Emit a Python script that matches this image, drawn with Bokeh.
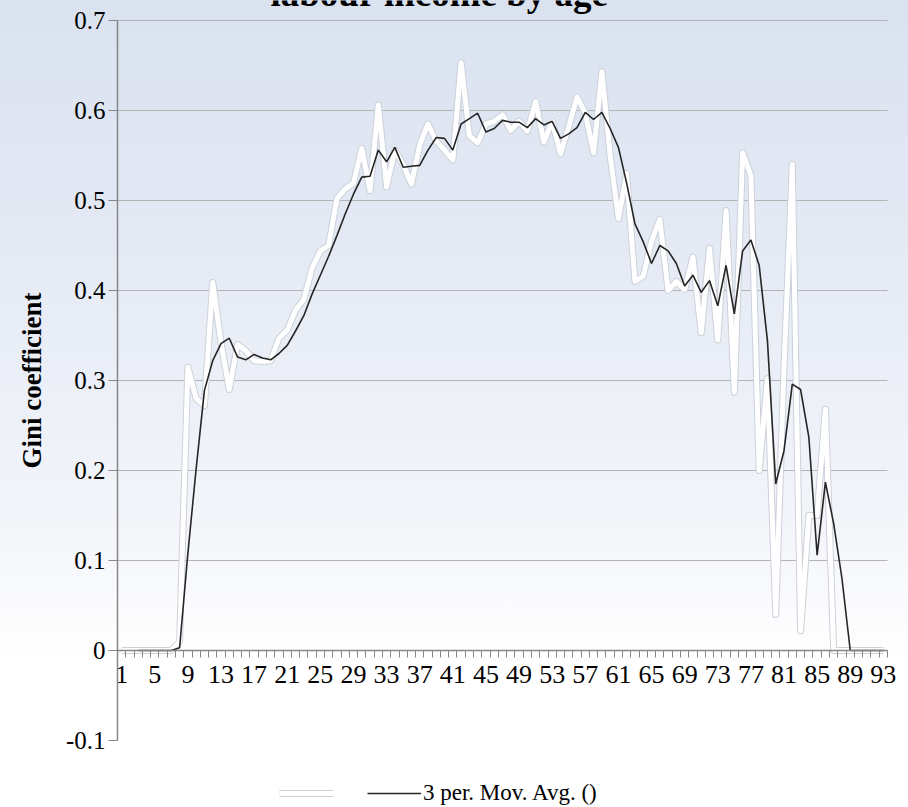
import math
from bokeh.plotting import figure
from bokeh.models import (Range1d, FixedTicker, Legend, LegendItem, Label,
                          ColumnDataSource, LinearAxis)
from bokeh.embed import file_html
from bokeh.resources import INLINE

NAN = math.nan

# ---- data -------------------------------------------------------------
ages = list(range(1, 94))

gini = [
    0, 0, 0, 0, 0, 0, 0, 0.01, 0.315, 0.28,
    0.272, 0.409, 0.342, 0.29, 0.34, 0.333, 0.322, 0.321, 0.322, 0.347,
    0.356, 0.378, 0.39, 0.425, 0.444, 0.45, 0.502, 0.513, 0.519, 0.558,
    0.511, 0.606, 0.515, 0.556, 0.54, 0.518, 0.562, 0.585, 0.566, 0.556,
    0.545, 0.653, 0.572, 0.564, 0.585, 0.588, 0.595, 0.578, 0.588, 0.577,
    0.61, 0.565, 0.588, 0.552, 0.582, 0.615, 0.597, 0.553, 0.643, 0.55,
    0.48, 0.53, 0.41, 0.416, 0.455, 0.479, 0.4, 0.41, 0.401, 0.437,
    0.353, 0.447, 0.345, 0.489, 0.287, 0.553, 0.528, 0.2, 0.302, 0.04,
    0.315, 0.54, 0.022, 0.15, 0.15, 0.268, 0, 0, 0, 0,
    0, 0, 0,
]

mov_avg = [
    NAN, NAN, 0, 0, 0, 0, 0, 0.003, 0.108, 0.202,
    0.289, 0.322, 0.341, 0.347, 0.326, 0.323, 0.329, 0.325, 0.323, 0.33,
    0.339, 0.355, 0.372, 0.396, 0.417, 0.438, 0.461, 0.485, 0.507, 0.526,
    0.527, 0.556, 0.543, 0.559, 0.537, 0.538, 0.539, 0.556, 0.570, 0.569,
    0.556, 0.585, 0.591, 0.597, 0.576, 0.580, 0.589, 0.587, 0.587, 0.581,
    0.591, 0.584, 0.588, 0.569, 0.574, 0.581, 0.598, 0.590, 0.598, 0.580,
    0.559, 0.519, 0.474, 0.454, 0.430, 0.450, 0.444, 0.430, 0.405, 0.417,
    0.398, 0.411, 0.383, 0.428, 0.374, 0.444, 0.456, 0.428, 0.344, 0.185,
    0.222, 0.296, 0.290, 0.237, 0.106, 0.187, 0.141, 0.080, 0, 0,
    0, 0, 0,
]

x_label_ticks = list(range(1, 94, 4))
x_boundaries = [a - 0.5 for a in ages] + [ages[-1] + 0.5]
y_ticks = [-0.1, 0.0, 0.1, 0.2, 0.3, 0.4, 0.5, 0.6, 0.7]
y_tick_labels = ["-0.1", "0", "0.1", "0.2", "0.3", "0.4", "0.5", "0.6", "0.7"]
grid_ticks = [0.0, 0.1, 0.2, 0.3, 0.4, 0.5, 0.6, 0.7]

title_text = "labour income by age"
y_title = "Gini coefficient"
ma_label = "3 per. Mov. Avg. ()"

SERIF = "Liberation Serif"

# ---- figure -----------------------------------------------------------
# The frame fills the whole canvas; both axes are drawn at fixed data
# positions (x axis at y = 0, y axis at the left edge of the categories)
# and bounded to the plot area, so nothing (title, legend, last tick label)
# gets clipped by the frame.
p = figure(width=908, height=807, output_backend="svg", toolbar_location=None,
           x_range=Range1d(-13.631, 96.036), y_range=Range1d(-0.17444, 0.72222),
           x_axis_location=None, y_axis_location=None,
           min_border_left=0, min_border_right=0, min_border_top=0, min_border_bottom=0)
p.styles = {"background": "linear-gradient(to bottom, #dae2f0 0%, #e6ebf5 35%, #f3f5fa 65%, #ffffff 82%)"}
p.background_fill_alpha = 0
p.border_fill_alpha = 0
p.outline_line_color = None
p.xgrid.visible = False
p.ygrid.visible = False

src = ColumnDataSource(dict(age=ages, gini=gini, ma=mov_avg))
grid_src = ColumnDataSource(dict(y=grid_ticks,
                                 x0=[x_boundaries[0]] * len(grid_ticks),
                                 x1=[x_boundaries[-1]] * len(grid_ticks)))

# horizontal gridlines limited to the category span
p.segment(x0="x0", x1="x1", y0="y", y1="y", source=grid_src,
          line_color="#b4b4b4", line_width=1.2)

# x axis drawn at y = 0
xa = LinearAxis(fixed_location=0)
xa.bounds = (x_boundaries[0], x_boundaries[-1])
xa.ticker = FixedTicker(ticks=x_label_ticks, minor_ticks=x_boundaries)
xa.axis_line_color = "#868686"
xa.axis_line_width = 1.3
xa.major_tick_out = 0
xa.major_tick_in = 0
xa.minor_tick_out = 7
xa.minor_tick_in = 0
xa.minor_tick_line_color = "#868686"
xa.major_label_standoff = 8
xa.major_label_text_font = SERIF
xa.major_label_text_font_size = "26px"
xa.major_label_text_color = "black"
p.add_layout(xa, "below")

# y axis drawn at the left edge of the first category
ya = LinearAxis(fixed_location=x_boundaries[0])
ya.bounds = (y_ticks[0], y_ticks[-1])
ya.ticker = FixedTicker(ticks=y_ticks)
ya.major_label_overrides = dict(zip(y_ticks, y_tick_labels))
ya.axis_line_color = "#868686"
ya.axis_line_width = 1.5
ya.major_tick_out = 9
ya.major_tick_in = 0
ya.major_tick_line_color = "#868686"
ya.minor_tick_out = 0
ya.minor_tick_in = 0
ya.major_label_standoff = 3
ya.major_label_text_font = SERIF
ya.major_label_text_font_size = "25px"
ya.major_label_text_color = "black"
p.add_layout(ya, "left")

# series
w_under = p.line("age", "gini", source=src, line_color="#cdd2d9", line_width=7, line_join="round")
w_line = p.line("age", "gini", source=src, line_color="white", line_width=5, line_join="round")
ma_line = p.line("age", "ma", source=src, line_color="#262626", line_width=1.6)

# y-axis title, centred on the bounded axis (0.7 .. -0.1)
p.add_layout(Label(x=-9.83, y=0.3, text=y_title, angle=math.pi / 2,
                   text_font=SERIF, text_font_style="bold", text_font_size="27px",
                   text_align="center", text_baseline="middle", text_color="black"))

# title (upper part cut off by the top edge, as in the source image)
p.add_layout(Label(x=39.4, y=0.73, text=title_text, text_font=SERIF, text_font_style="bold",
                   text_font_size="37px", text_align="center", text_baseline="alphabetic",
                   text_color="black"))

legend = Legend(items=[LegendItem(label="", renderers=[w_under, w_line]),
                       LegendItem(label=ma_label, renderers=[ma_line])],
                orientation="horizontal", location=(279, 1),
                glyph_width=54, glyph_height=20, label_standoff=2, label_width=0,
                spacing=32, padding=0, margin=0, border_line_color=None,
                background_fill_alpha=0,
                label_text_font=SERIF, label_text_font_size="23px", label_text_color="black")
p.add_layout(legend, "center")

open("out.html", "w").write(file_html(p, INLINE))
